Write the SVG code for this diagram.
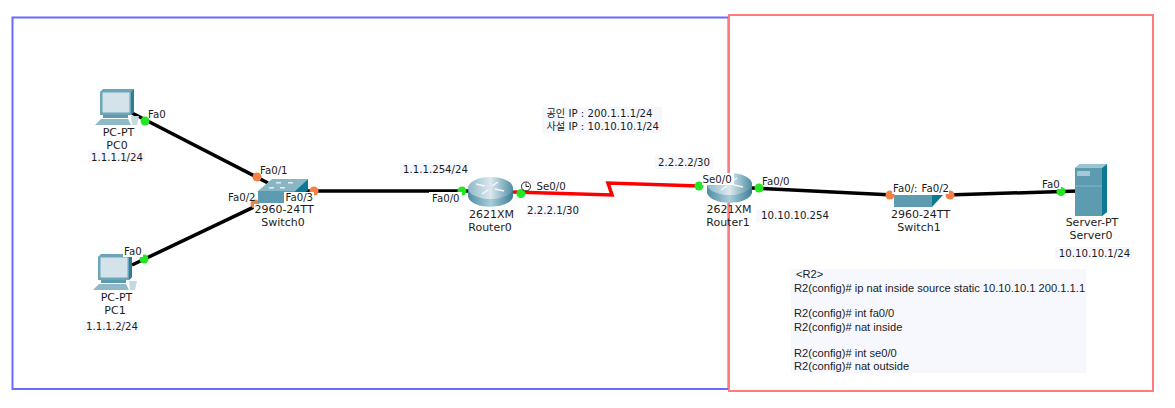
<svg xmlns="http://www.w3.org/2000/svg" width="1175" height="408" viewBox="0 0 1175 408">
<style>
text{font-family:"DejaVu Sans","Noto Sans CJK KR",sans-serif;font-size:10.2px;fill:#1c1c1c}
.m{text-anchor:middle}
.n{font-size:11px}
.c{font-family:"Liberation Sans",sans-serif;font-size:11.15px}
.note{fill:#f6f8fe}
.bg{fill:#fff}
.cable{fill:none;stroke:#000;stroke-width:3.5}
.wan{fill:none;stroke:#f00;stroke-width:3.5}
.g{fill:#22e622}.o{fill:#f57f45}
</style>
<defs>
<linearGradient id="rt" x1="0" x2="1" y1="0" y2="0"><stop offset="0" stop-color="#8fb8c6"/><stop offset=".5" stop-color="#dce9ee"/><stop offset="1" stop-color="#4d8ea3"/></linearGradient>
<linearGradient id="rs" x1="0" x2="1" y1="0" y2="0"><stop offset="0" stop-color="#4f8ea4"/><stop offset=".5" stop-color="#a9cdd9"/><stop offset="1" stop-color="#3b7f96"/></linearGradient>
<g id="pc">
<path d="M5 3L8 0H39V23L36 26H5Z" fill="#6da5b8"/><path d="M36 3L39 0V23L36 26Z" fill="#2f7d94"/>
<rect x="7.500" y="3.500" width="27" height="20" fill="#d4e3ea"/>
<path d="M8 26H33V29H8Z" fill="#5c9bb0"/><path d="M6 30H33L36 36H0Z" fill="#8fb9c6"/><path d="M36 27L44 27 42 36 37 36Z" fill="#c4d8df"/>
</g>
<g id="router">
<path d="M0 10V20C4 33 41 33 45 20V10Z" fill="url(#rs)"/>
<ellipse cx="22.500" cy="11" rx="22.500" ry="11" fill="url(#rt)"/>
<g stroke="#fff" stroke-width="1.500" fill="none" opacity=".85"><path d="M8 7L17 9"/><path d="M36 14L27 12"/><path d="M30 5L24 9"/><path d="M14 17L20 13"/></g>
</g>
<g id="switch">
<path d="M0 12L14 0H50L37 12Z" fill="#88b6c4"/>
<path d="M0 12H37V24H0Z" fill="#5d9bb0"/><path d="M37 12L50 0V11L37 24Z" fill="#0d7a93"/>
<g fill="#e4eef2"><rect x="11" y="8" width="5" height="1.500"/><rect x="22" y="8" width="5" height="1.500"/><rect x="18" y="3" width="5" height="1.500"/><rect x="30" y="3" width="5" height="1.500"/></g>
</g>
</defs>
<rect id="area-inside" x="12.500" y="17.500" width="716" height="371.500" fill="none" stroke="#6a6aff" stroke-width="2"/>
<rect id="area-outside" x="729" y="15" width="424" height="376" fill="none" stroke="#ff7b7b" stroke-width="2"/>
<g id="connectors">
<path class="cable" d="M132 113L268 183"/>
<path class="cable" d="M132 265L258 205"/>
<path class="cable" d="M305 191L470 191"/>
<path class="wan" d="M513 192L612 195 608 183 700 186"/>
<path class="cable" d="M752 188L893 195"/>
<path class="cable" d="M947 195L1078 191"/>
</g>
<g id="PC0"><use href="#pc" x="95" y="89"/><text class="m n" x="118.500" y="135.500">PC-PT</text><text class="m n" x="117" y="148.500">PC0</text><rect class="note" x="88" y="150" width="57" height="12"/><text class="m" x="117" y="160.500">1.1.1.1/24</text></g>
<g id="PC1"><use href="#pc" x="93" y="254"/><text class="m n" x="116.500" y="301">PC-PT</text><text class="m n" x="115" y="314">PC1</text><rect class="note" x="82" y="321" width="57" height="12"/><text class="m" x="112" y="330">1.1.1.2/24</text></g>
<g id="ports-back"><circle class="o" cx="255" cy="204" r="4.500"/></g>
<g id="Switch0"><use href="#switch" x="258" y="179"/><rect class="bg" x="254" y="204" width="60" height="9"/><text class="m n" x="284" y="212.500">2960-24TT</text><text class="m n" x="283" y="225.500">Switch0</text></g>
<g id="Router0"><use href="#router" x="468" y="177"/><text class="m n" x="491.500" y="218">2621XM</text><text class="m n" x="490" y="231">Router0</text></g>
<g id="Router1"><use href="#router" x="707" y="173"/><text class="m n" x="729" y="213">2621XM</text><text class="m n" x="728" y="226">Router1</text></g>
<g id="Switch1"><path d="M894 195H932V207H894Z" fill="#5d9bb0"/><path d="M932 195H943L932 207Z" fill="#0d7a93"/><text class="m n" x="920.500" y="218">2960-24TT</text><text class="m n" x="919" y="231">Switch1</text></g>
<g id="Server0"><path d="M1075 168L1080 164H1107V212L1102 216H1075Z" fill="#5d9bb0"/><path d="M1102 168L1107 164V212L1102 216Z" fill="#0d7a93"/><path d="M1075 168L1080 164H1107L1102 168Z" fill="#9cc3cf"/><rect x="1077" y="171" width="13" height="5" fill="#a6c9d4"/><path d="M1075 186H1102" stroke="#86b4c3"/><text class="m n" x="1092" y="226">Server-PT</text><text class="m n" x="1091" y="239">Server0</text><rect class="note" x="1055" y="247" width="77" height="12"/><text class="m" x="1094.500" y="256.500">10.10.10.1/24</text></g>
<g id="ports">
<circle class="g" cx="145" cy="121" r="4.500"/><circle class="g" cx="144" cy="259" r="4.500"/>
<circle class="o" cx="257" cy="177" r="4.500"/><circle class="o" cx="314" cy="191" r="4.500"/>
<circle class="g" cx="462" cy="191" r="4.500"/><circle class="g" cx="521" cy="193.500" r="4.500"/><circle class="g" cx="699" cy="186" r="4.500"/><circle class="g" cx="759" cy="188" r="4.500"/>
<circle class="o" cx="890" cy="195" r="4.500"/><circle class="o" cx="950" cy="195" r="4.500"/><circle class="g" cx="1061" cy="191.500" r="4.500"/>
</g>
<g id="labels">
<text x="148" y="118">Fa0</text><rect class="bg" x="123" y="246" width="20" height="11"/><text x="124" y="255">Fa0</text>
<text x="260" y="174">Fa0/1</text><text x="228" y="201">Fa0/2</text><rect class="bg" x="284" y="192" width="30" height="11"/><text x="285.500" y="201">Fa0/3</text>
<rect class="note" x="400" y="163" width="69" height="13"/><text x="403" y="173">1.1.1.254/24</text>
<rect class="bg" x="429" y="192" width="33" height="11"/><text x="432" y="202">Fa0/0</text>
<g fill="none" stroke="#222"><circle cx="526" cy="186.500" r="4.500"/><path d="M526 183.500V186.500H529"/></g>
<text x="536.500" y="190">Se0/0</text>
<rect class="note" x="526" y="204" width="54" height="13"/><text x="527" y="214">2.2.2.1/30</text>
<rect class="note" x="542" y="107" width="120" height="26"/>
<text x="546.500" y="117">공인 IP : 200.1.1.1/24</text><text x="546.500" y="130">사설 IP : 10.10.10.1/24</text>
<rect class="note" x="655" y="156" width="58" height="13"/><text x="658" y="166">2.2.2.2/30</text>
<rect class="bg" x="702" y="173" width="32" height="12"/><text x="702.500" y="183">Se0/0</text>
<text x="762" y="185">Fa0/0</text>
<rect class="note" x="756" y="209" width="71" height="13"/><text x="761" y="219">10.10.10.254</text>
<rect class="bg" x="892" y="183" width="57" height="11"/><text x="893" y="192">Fa0/:</text><text x="921.500" y="192">Fa0/2</text>
<rect class="bg" x="1041" y="178" width="20" height="11"/><text x="1042" y="188">Fa0</text>
</g>
<g id="config">
<rect class="note" x="791" y="269" width="295" height="104"/>
<text class="c" x="796" y="278">&lt;R2&gt;</text>
<text class="c" x="794" y="291.500">R2(config)# ip nat inside source static 10.10.10.1 200.1.1.1</text>
<text class="c" x="794" y="317">R2(config)# int fa0/0</text>
<text class="c" x="794" y="330.500">R2(config)# nat inside</text>
<text class="c" x="794" y="356.500">R2(config)# int se0/0</text>
<text class="c" x="794" y="370">R2(config)# nat outside</text>
</g>
</svg>
